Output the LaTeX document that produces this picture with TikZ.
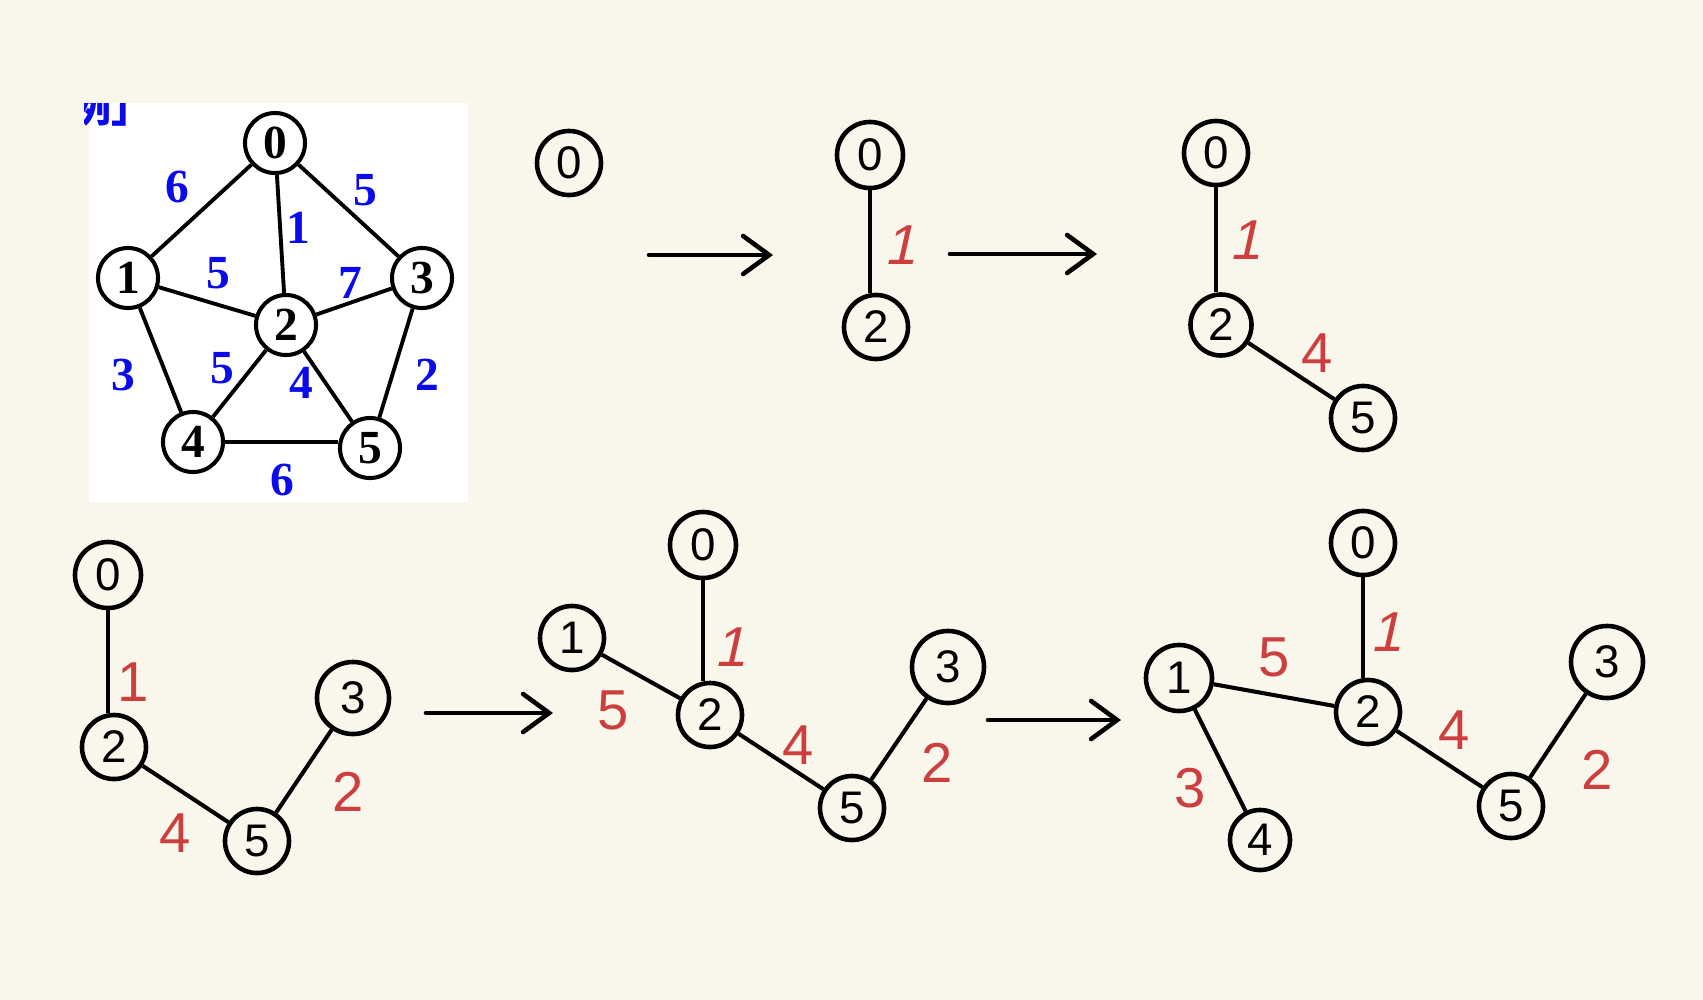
\documentclass[tikz,border=0pt]{standalone}
\usepackage{fontspec}
\setmainfont{Liberation Serif}
\setsansfont{Liberation Sans}
\newfontfamily\cjkfont{Noto Sans CJK SC}
\newfontfamily\slantsans[FakeSlant=0.22]{Liberation Sans}
\usetikzlibrary{arrows.meta}
\definecolor{bgc}{RGB}{249,247,236}
\definecolor{lblue}{RGB}{10,10,235}
\definecolor{hred}{RGB}{205,62,62}
\begin{document}
\begin{tikzpicture}[x=0.01cm,y=-0.01cm,
  gnode/.style={circle,draw=black,line width=1.15pt,minimum size=0.6cm,inner sep=0pt,font=\fontsize{13.5}{14}\selectfont\bfseries},
  gedge/.style={line width=1.1pt},
  wlab/.style={text=lblue,inner sep=0pt,font=\fontsize{13.5}{14}\selectfont\bfseries},
  hnode/.style={circle,draw=black,line width=1.3pt,minimum size=0.64cm,inner sep=0pt,font=\sffamily\fontsize{13}{13}\selectfont},
  bignode/.style={minimum size=0.72cm},
  hedge/.style={line width=1.15pt},
  rlab/.style={text=hred,inner sep=0pt,font=\sffamily\fontsize{16}{16}\selectfont},
  rslant/.style={rlab,font=\slantsans\fontsize{16}{16}\selectfont},
  flow/.style={line width=1.3pt,line cap=round,-{Straight Barb[length=0.26cm,width=0.38cm,line cap=round]}}]
\fill[bgc] (0,0) rectangle (1703,1000);
\useasboundingbox (0,0) rectangle (1703,1000);
% original graph
\fill[white] (89,103) rectangle (468,502);
\begin{scope}
  \clip (84,103) rectangle (200,140);
  \node[anchor=base west,inner sep=0pt,text=lblue,font=\fontsize{11.4}{11.4}\cjkfont\bfseries\selectfont] (cut) at (70.6,122) {例」};
\end{scope}
\node[gnode] (g0) at (275,143) {0};
\node[gnode] (g1) at (128,278) {1};
\node[gnode] (g2) at (286,325) {2};
\node[gnode] (g3) at (422,278) {3};
\node[gnode] (g4) at (193,442) {4};
\node[gnode] (g5) at (370,448) {5};
\draw[gedge] (g0) -- (g1);
\draw[gedge] (g0) -- (g2);
\draw[gedge] (g0) -- (g3);
\draw[gedge] (g1) -- (g2);
\draw[gedge] (g2) -- (g3);
\draw[gedge] (g1) -- (g4);
\draw[gedge] (g2) -- (g4);
\draw[gedge] (g2) -- (g5);
\draw[gedge] (g3) -- (g5);
\draw[gedge] (g4.east) -- (g4.east -| g5.west);
\node[wlab] (w01) at (177,187) {6};
\node[wlab] (w03) at (365,190) {5};
\node[wlab] (w02) at (298,228) {1};
\node[wlab] (w12) at (218,273) {5};
\node[wlab] (w23) at (350,283) {7};
\node[wlab] (w14) at (123,375) {3};
\node[wlab] (w24) at (222,368) {5};
\node[wlab] (w25) at (301,383) {4};
\node[wlab] (w35) at (427,375) {2};
\node[wlab] (w45) at (282,480) {6};
% figure A
\node[hnode] (a0) at (569,163) {0};
\coordinate (ar1s) at (649,255);
\coordinate (ar1e) at (773,255);
\draw[flow] (ar1s) -- (ar1e);
% figure B
\node[hnode,minimum size=0.66cm] (b0) at (870,155) {0};
\node[hnode] (b2) at (876,327) {2};
\draw[hedge] (b0.south) -- (b0.south |- b2.north);
\node[rslant] (rb1) at (900,245) {1};
\coordinate (ar2s) at (950,254);
\coordinate (ar2e) at (1097,254);
\draw[flow] (ar2s) -- (ar2e);
% figure C
\node[hnode] (c0) at (1216,153) {0};
\node[hnode,minimum size=0.61cm] (c2) at (1221,325) {2};
\node[hnode] (c5) at (1363,418) {5};
\draw[hedge] (c0.south) -- (c0.south |- c2.north);
\draw[hedge] (c2) -- (c5);
\node[rslant] (rc1) at (1245,240) {1};
\node[rlab] (rc4) at (1317,353) {4};
% figure D
\node[hnode,minimum size=0.66cm] (d0) at (108,575) {0};
\node[hnode] (d2) at (114,747) {2};
\node[hnode] (d5) at (257,841) {5};
\node[hnode,bignode] (d3) at (353,698) {3};
\draw[hedge] (d0.south) -- (d0.south |- d2.north);
\draw[hedge] (d2) -- (d5);
\draw[hedge] (d5) -- (d3);
\node[rlab] (rd1) at (133,682) {1};
\node[rlab] (rd4) at (175,833) {4};
\node[rlab] (rd2) at (348,792) {2};
\coordinate (ar3s) at (426,713);
\coordinate (ar3e) at (553,713);
\draw[flow] (ar3s) -- (ar3e);
% figure E
\node[hnode,minimum size=0.66cm] (e0) at (703,545) {0};
\node[hnode] (e1) at (572,638) {1};
\node[hnode] (e2) at (710,715) {2};
\node[hnode,bignode] (e3) at (948,667) {3};
\node[hnode] (e5) at (852,808) {5};
\draw[hedge] (e0.south) -- (e0.south |- e2.north);
\draw[hedge] (e1) -- (e2);
\draw[hedge] (e2) -- (e5);
\draw[hedge] (e5) -- (e3);
\node[rslant] (re1) at (730,647) {1};
\node[rlab] (re5) at (613,710) {5};
\node[rlab] (re4) at (798,745) {4};
\node[rlab] (re2) at (937,763) {2};
\coordinate (ar4s) at (988,720);
\coordinate (ar4e) at (1121,720);
\draw[flow] (ar4s) -- (ar4e);
% figure F
\node[hnode] (f0) at (1363,543) {0};
\node[hnode,minimum size=0.66cm] (f1) at (1179,678) {1};
\node[hnode] (f2) at (1368,712) {2};
\node[hnode,bignode] (f3) at (1607,662) {3};
\node[hnode,minimum size=0.6cm] (f4) at (1260,840) {4};
\node[hnode] (f5) at (1511,806) {5};
\draw[hedge] (f0.south) -- (f0.south |- f2.north);
\draw[hedge] (f1) -- (f2);
\draw[hedge] (f1) -- (f4);
\draw[hedge] (f2) -- (f5);
\draw[hedge] (f5) -- (f3);
\node[rslant] (rf1) at (1386,632) {1};
\node[rlab] (rf5) at (1274,657) {5};
\node[rlab] (rf4) at (1454,730) {4};
\node[rlab] (rf3) at (1190,788) {3};
\node[rlab] (rf2) at (1597,770) {2};
\end{tikzpicture}
\end{document}
